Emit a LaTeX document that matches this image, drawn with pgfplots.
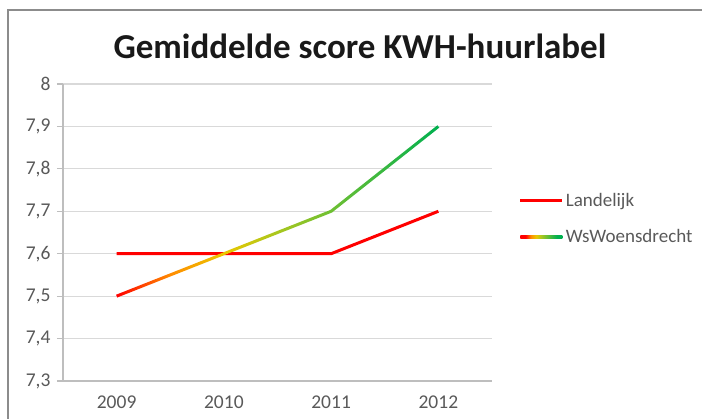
\documentclass[border=0pt]{standalone}
\usepackage{fontspec}
\setmainfont{Carlito}
\usepackage{pgfplots}
\pgfplotsset{compat=1.18}
\usetikzlibrary{fadings}
\definecolor{tickgray}{RGB}{89,89,89}
\definecolor{gridgray}{RGB}{217,217,217}
\definecolor{axgray}{RGB}{190,190,190}
% colour run of the WsWoensdrecht line, left to right
\pgfdeclarehorizontalshading{wsgrad}{100bp}{rgb(0bp)=(1,0,0); rgb(31.25bp)=(1,0,0);
  rgb(37.5bp)=(1,0.55,0); rgb(43.75bp)=(0.92,0.78,0); rgb(50bp)=(0.66,0.78,0.12);
  rgb(56.25bp)=(0.43,0.75,0.2); rgb(68.75bp)=(0,0.69,0.31); rgb(100bp)=(0,0.69,0.31)}
\pgfplotsset{plotbox/.style={at={(63pt,38pt)}, anchor=south west,
  scale only axis, width=429pt, height=297pt,
  xmin=-0.5, xmax=3.5, ymin=7.3, ymax=8}}
% mask: the WsWoensdrecht line itself
\begin{tikzfadingfrompicture}[name=wsline, x=1pt, y=1pt]
\path[use as bounding box] (0,0) rectangle (702,419);
\begin{axis}[plotbox, hide axis, clip=false]
\addplot[white, line width=3pt] coordinates {(0,7.5) (1,7.6) (2,7.7) (3,7.9)};
\end{axis}
\end{tikzfadingfrompicture}
\begin{document}
\begin{tikzpicture}[x=1pt,y=1pt]
\clip (0,0) rectangle (702,419);
\draw[black!45, line width=1.5pt] (8,-10) rectangle (720,409);
\node[font=\bfseries\fontsize{35}{40}\selectfont, text=black!90] at (360,373) {Gemiddelde score KWH-huurlabel};
\begin{axis}[
  plotbox,
  axis x line*=bottom, axis y line*=left,
  axis line style={axgray, line width=1.2pt},
  xtick={0,1,2,3}, xticklabels={2009,2010,2011,2012},
  minor xtick={-0.5,0.5,1.5,2.5,3.5},
  xtick style={draw=none},
  minor x tick style={axgray, line width=1.2pt},
  ytick={7.3,7.4,7.5,7.6,7.7,7.8,7.9,8},
  ytick style={axgray, line width=1.2pt},
  tick align=outside, major tick length=6pt, minor tick length=5pt,
  ymajorgrids, major grid style={gridgray, line width=1.2pt},
  /pgf/number format/use comma, /pgf/number format/fixed, /pgf/number format/precision=1,
  /pgf/number format/assume math mode=true,
  ticklabel style={font=\fontsize{19.5}{22}\selectfont, text=tickgray},
  xticklabel style={yshift=-5pt},
  yticklabel style={xshift=-3pt},
  legend style={at={(rel axis cs:1.055,0.645)}, anchor=north west, draw=none, fill=none,
    font=\fontsize{19}{21}\selectfont, text=tickgray, row sep=17pt,
    /tikz/every even column/.append style={column sep=2pt}},
  legend cell align=left,
  clip=false,
]
\addplot[red, line width=3pt,
  legend image code/.code={\draw[red, line width=3pt] (0pt,0pt) -- (42pt,0pt);}]
  coordinates {(0,7.6) (1,7.6) (2,7.6) (3,7.7)};
\addlegendentry{Landelijk}
\addlegendimage{legend image code/.code={\shade[shading=wsgrad, draw=none] (0pt,-1.5pt) rectangle (42pt,1.5pt);}}
\addlegendentry{WsWoensdrecht}
\end{axis}
\shade[shading=wsgrad, path fading=wsline, fit fading=false,
  fading transform={shift={(351pt,209.5pt)}}] (63,25) rectangle (492,350);
\end{tikzpicture}
\end{document}
